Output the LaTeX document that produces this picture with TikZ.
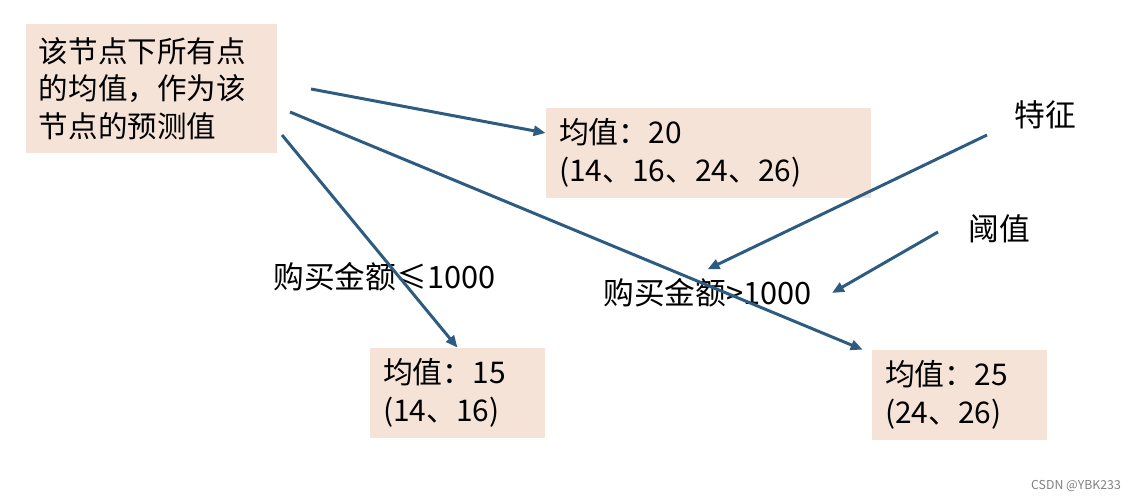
\documentclass[tikz,border=0pt]{standalone}
\usepackage{fontspec}
\setmainfont{Noto Sans CJK SC}
\usetikzlibrary{arrows.meta}
\definecolor{boxfill}{RGB}{246,227,216}
\definecolor{arrowblue}{RGB}{46,92,128}

\begin{document}
\begin{tikzpicture}[
  every node/.style = {font=\fontsize{17}{21.5}\selectfont},
  meanbox/.style = {shape=rectangle, fill=boxfill, align=left,
    inner xsep=0.26cm, inner ysep=0pt, minimum height=1.8cm},
  splitlabel/.style = {inner sep=0.1cm, font=\fontsize{17.5}{21.5}\selectfont},
  link/.style = {draw=arrowblue, line width=1.7pt,
    -{Triangle[length=0.24cm,width=0.2cm]}}]
  \useasboundingbox (0,0) rectangle (22.68,-10);

  % boxes
  \node[meanbox, minimum width=5.02cm, minimum height=2.58cm, text width=4.5cm,
    font=\fontsize{16.8}{21.5}\selectfont]
    (root) at (3.03,-1.77) {该节点下所有点\\的均值，作为该\\节点的预测值};
  \node[meanbox, minimum width=6.5cm, text width=5.98cm]
    (mid) at (14.17,-3.06) {均值：20\\(14、16、24、26)};
  \node[meanbox, minimum width=3.5cm, text width=2.98cm]
    (left) at (9.15,-7.86) {均值：15\\(14、16)};
  \node[meanbox, minimum width=3.5cm, text width=2.98cm]
    (right) at (19.19,-7.9) {均值：25\\(24、26)};

  % labels
  \node[splitlabel] (le) at (7.69,-5.54) {购买金额≤1000};
  \node[splitlabel] (gt) at (14.15,-5.86) {购买金额>1000};
  \node[splitlabel] (feat) at (20.9,-2.3) {特征};
  \node[splitlabel] (thr) at (19.98,-4.58) {阈值};
  \node[font=\fontsize{7}{8}\selectfont, text=gray] (mark) at (21.52,-9.72) {CSDN @YBK233};

  % arrow starts
  \coordinate (r1) at (6.22,-1.78);
  \coordinate (r2) at (5.8,-2.24);
  \coordinate (r3) at (5.64,-2.7);
  \coordinate (f1) at (19.74,-2.7);
  \coordinate (t1) at (18.76,-4.64);

  \draw[link] (r1) -- (mid.173);
  \draw[link] (r2) -- ([xshift=-0.18cm]right.north west);
  \draw[link] (r3) -- (left.north);
  \draw[link] (f1) -- ([yshift=0.08cm]gt.north);
  \draw[link] (t1) -- ([xshift=0.3cm]gt.east);
\end{tikzpicture}
\end{document}
